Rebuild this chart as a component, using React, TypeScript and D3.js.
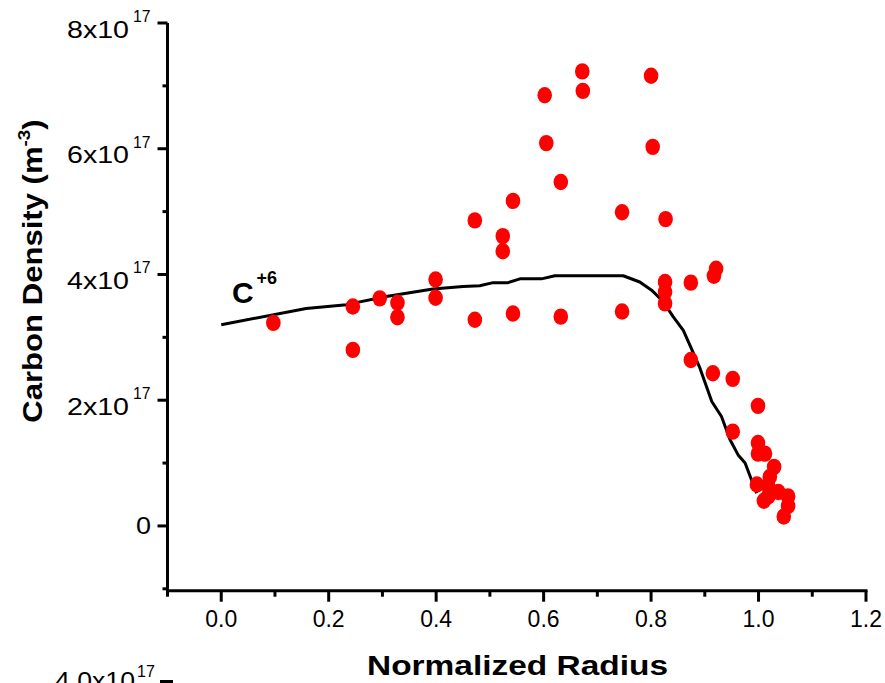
import React from "react";
import * as d3 from "d3";

// Measured data (normalized radius, carbon density in m^-3)
const pointX = [
  0.097, 0.245, 0.245, 0.295, 0.328, 0.328, 0.399, 0.399, 0.472, 0.472,
  0.543, 0.524, 0.524, 0.543, 0.602, 0.605, 0.632, 0.672, 0.673, 0.632,
  0.746, 0.746, 0.8, 0.803, 0.827, 0.826, 0.826, 0.826, 0.874, 0.921,
  0.917, 0.874, 0.915, 0.952, 0.999, 0.952, 0.999, 0.999, 1.012, 1.029,
  1.021, 0.997, 1.018, 1.037, 1.055, 1.055, 1.01, 1.047, 1.018,
];
const pointY = [
  3.23e17, 3.49e17, 2.8e17, 3.62e17, 3.55e17, 3.32e17, 3.92e17, 3.63e17, 4.86e17, 3.28e17,
  5.17e17, 4.61e17, 4.37e17, 3.38e17, 6.85e17, 6.09e17, 5.47e17, 7.23e17, 6.92e17, 3.33e17,
  4.99e17, 3.41e17, 7.16e17, 6.03e17, 4.88e17, 3.88e17, 3.72e17, 3.54e17, 3.87e17, 4.09e17,
  3.98e17, 2.64e17, 2.43e17, 2.34e17, 1.91e17, 1.5e17, 1.32e17, 1.15e17, 1.15e17, 0.94e17,
  0.78e17, 0.66e17, 0.63e17, 0.54e17, 0.47e17, 0.32e17, 0.4e17, 0.15e17, 0.47e17,
];

const lineX = [
  0.0, 0.158, 0.233, 0.307, 0.394, 0.45, 0.481, 0.506, 0.534, 0.556, 0.596, 0.621, 0.748,
  0.779, 0.801, 0.8225, 0.841, 0.86, 0.872, 0.891, 0.913, 0.931, 0.947, 0.962, 0.975,
  0.987, 0.9965,
];
const lineY = [
  3.2e17, 3.46e17, 3.52e17, 3.65e17, 3.77e17, 3.81e17, 3.82e17, 3.87e17, 3.87e17, 3.93e17,
  3.93e17, 3.98e17, 3.98e17, 3.88e17, 3.75e17, 3.57e17, 3.33e17, 3.11e17, 2.88e17, 2.51e17,
  1.98e17, 1.74e17, 1.37e17, 1.13e17, 1.0e17, 0.73e17, 0.52e17,
];

const xMajorTicks = [0, 0.2, 0.4, 0.6, 0.8, 1.0, 1.2];
const xMinorTicks = [-0.1, 0.1, 0.3, 0.5, 0.7, 0.9, 1.1];
const yMajorTicks = [0, 2e17, 4e17, 6e17, 8e17];
const yMinorTicks = [-1e17, 1e17, 3e17, 5e17, 7e17];
const yTickMantissa = ["0", "2", "4", "6", "8"];

const xTitle = "Normalized Radius";
const yTitle = "Carbon Density (m";
const seriesLabel = "C";
const seriesCharge = "+6";

const FONT = "'Liberation Sans', Arial, Helvetica, sans-serif";

export default function App() {
  const W = 885;
  const H = 683;
  const x = d3.scaleLinear().domain([-0.1, 1.2]).range([167.5, 866]);
  const y = d3.scaleLinear().domain([-1.03e17, 8e17]).range([590.7, 23]);
  const x0 = x(-0.1);
  const yb = y(-1.03e17);

  const pts = pointX.map((v, i) => [v, pointY[i]] as [number, number]);
  const lpts = lineX.map((v, i) => [v, lineY[i]] as [number, number]);
  const lineGen = d3
    .line<[number, number]>()
    .x((d) => x(d[0]))
    .y((d) => y(d[1]));

  return (
    <svg
      width={W}
      height={H}
      style={{ position: "absolute", left: 0, top: 0, background: "#fff" }}
      fontFamily={FONT}
    >
      <rect x={0} y={0} width={W} height={H} fill="#fff" />
      {/* axes */}
      <line x1={x0} x2={x0} y1={y(8e17)} y2={yb + 1.5} stroke="#000" strokeWidth={3} />
      <line x1={x0 - 1.5} x2={x(1.2) + 1.5} y1={yb} y2={yb} stroke="#000" strokeWidth={3} />
      {yMajorTicks.map((t) => (
        <line key={"ym" + t} x1={x0 - 10} x2={x0} y1={y(t)} y2={y(t)} stroke="#000" strokeWidth={3} />
      ))}
      {yMinorTicks.map((t) => (
        <line key={"yn" + t} x1={x0 - 5} x2={x0} y1={y(t)} y2={y(t)} stroke="#000" strokeWidth={3} />
      ))}
      {xMajorTicks.map((t) => (
        <line key={"xm" + t} x1={x(t)} x2={x(t)} y1={yb} y2={yb + 11} stroke="#000" strokeWidth={3} />
      ))}
      {xMinorTicks.map((t) => (
        <line key={"xn" + t} x1={x(t)} x2={x(t)} y1={yb} y2={yb + 6} stroke="#000" strokeWidth={3} />
      ))}
      {/* x tick labels */}
      {xMajorTicks.map((t) => (
        <text key={"xl" + t} x={x(t)} y={626.5} fontSize={23} textAnchor="middle" fill="#000">
          {t.toFixed(1)}
        </text>
      ))}
      {/* y tick labels */}
      {yMajorTicks.map((t, i) =>
        t === 0 ? (
          <text key={"yl" + t} x={151} y={y(t) + 8.5} fontSize={24} textAnchor="end" textLength={15} lengthAdjust="spacingAndGlyphs">
            0
          </text>
        ) : (
          <g key={"yl" + t}>
            <text x={67} y={y(t) + 14.5} fontSize={24} textLength={62} lengthAdjust="spacingAndGlyphs">
              {yTickMantissa[i] + "x10"}
            </text>
            <text x={133} y={y(t) - 1} fontSize={16} textLength={17.5} lengthAdjust="spacingAndGlyphs">
              17
            </text>
          </g>
        )
      )}
      {/* titles */}
      <text x={517.5} y={674.5} fontSize={28.5} fontWeight="bold" textAnchor="middle" textLength={301} lengthAdjust="spacingAndGlyphs">
        {xTitle}
      </text>
      <g transform="translate(42,271) rotate(-90) scale(1.11,1)">
        <text x={0} y={0} fontSize={28} fontWeight="bold" textAnchor="middle">
          {yTitle}
          <tspan fontSize={17} dy={-12}>-3</tspan>
          <tspan dy={12}>)</tspan>
        </text>
      </g>
      {/* fitted curve */}
      <path d={lineGen(lpts) || ""} fill="none" stroke="#000" strokeWidth={3} strokeLinejoin="round" />
      {/* measured points */}
      {pts.map((d, i) => (
        <ellipse key={"p" + i} cx={x(d[0])} cy={y(d[1])} rx={7.3} ry={8.2} fill="#ff0000" />
      ))}
      {/* series label */}
      <text x={232} y={303} fontSize={30} fontWeight="bold">
        {seriesLabel}
      </text>
      <text x={256.5} y={284} fontSize={18} fontWeight="bold">
        {seriesCharge}
      </text>
      {/* cut-off label of a chart below */}
      <text x={55} y={688.5} fontSize={23} textLength={80} lengthAdjust="spacingAndGlyphs">
        4.0x10
      </text>
      <text x={137} y={677} fontSize={16}>17</text>
      <line x1={160} x2={173} y1={681.5} y2={681.5} stroke="#000" strokeWidth={3} />
      <line x1={171.5} x2={171.5} y1={680} y2={690} stroke="#000" strokeWidth={3} />
    </svg>
  );
}
